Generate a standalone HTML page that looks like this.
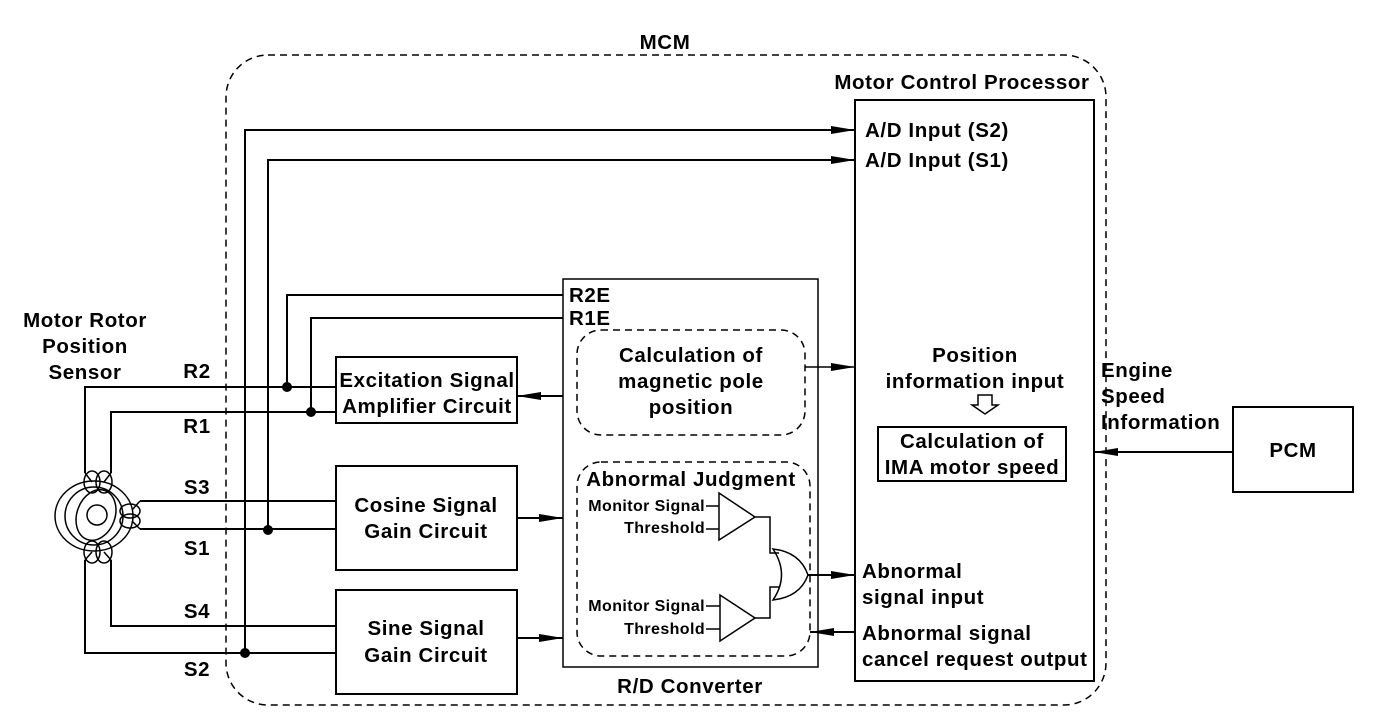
<!DOCTYPE html>
<html><head><meta charset="utf-8"><style>
html,body{margin:0;padding:0;background:#fff;}
svg{display:block;}
text{font-family:"Liberation Sans",Arial,sans-serif;font-weight:bold;fill:#000;}
</style></head><body>
<svg width="1392" height="720" viewBox="0 0 1392 720" xmlns="http://www.w3.org/2000/svg">
<defs>
<marker id="a" markerWidth="24" markerHeight="10" refX="24" refY="5" orient="auto" markerUnits="userSpaceOnUse">
<path d="M0,1 L24,5 L0,9 Z" fill="#000"/></marker>
</defs>
<g font-size="20.5" letter-spacing="0.6">
<text x="665" y="49" text-anchor="middle">MCM</text>
<text x="962" y="89" text-anchor="middle">Motor Control Processor</text>
<text x="865" y="137">A/D Input (S2)</text>
<text x="865" y="167">A/D Input (S1)</text>
<text x="85" y="327" text-anchor="middle">Motor Rotor</text>
<text x="85" y="353" text-anchor="middle">Position</text>
<text x="85" y="379" text-anchor="middle">Sensor</text>
<text x="197" y="378" text-anchor="middle">R2</text>
<text x="197" y="433" text-anchor="middle">R1</text>
<text x="197" y="494" text-anchor="middle">S3</text>
<text x="197" y="555" text-anchor="middle">S1</text>
<text x="197" y="618" text-anchor="middle">S4</text>
<text x="197" y="676" text-anchor="middle">S2</text>
<text x="569" y="302">R2E</text>
<text x="569" y="325">R1E</text>
<text x="427" y="387" text-anchor="middle">Excitation Signal</text>
<text x="427" y="413" text-anchor="middle">Amplifier Circuit</text>
<text x="426" y="512" text-anchor="middle">Cosine Signal</text>
<text x="426" y="538" text-anchor="middle">Gain Circuit</text>
<text x="426" y="635" text-anchor="middle">Sine Signal</text>
<text x="426" y="662" text-anchor="middle">Gain Circuit</text>
<text x="691" y="362" text-anchor="middle">Calculation of</text>
<text x="691" y="388" text-anchor="middle">magnetic pole</text>
<text x="691" y="414" text-anchor="middle">position</text>
<text x="691" y="486" text-anchor="middle">Abnormal Judgment</text>
<text x="690" y="693" text-anchor="middle">R/D Converter</text>
<text x="975" y="362" text-anchor="middle">Position</text>
<text x="975" y="388" text-anchor="middle">information input</text>
<text x="972" y="448" text-anchor="middle">Calculation of</text>
<text x="972" y="474" text-anchor="middle">IMA motor speed</text>
<text x="862" y="578">Abnormal</text>
<text x="862" y="604">signal input</text>
<text x="862" y="640">Abnormal signal</text>
<text x="862" y="666">cancel request output</text>
<text x="1101" y="377">Engine</text>
<text x="1101" y="403">Speed</text>
<text x="1101" y="429">Information</text>
<text x="1293" y="457" text-anchor="middle">PCM</text>
</g>
<g font-size="16" letter-spacing="0.4">
<text x="705" y="511" text-anchor="end">Monitor Signal</text>
<text x="705" y="533" text-anchor="end">Threshold</text>
<text x="705" y="611" text-anchor="end">Monitor Signal</text>
<text x="705" y="634" text-anchor="end">Threshold</text>
</g>
<g fill="none" stroke="#000" stroke-width="1.5">
<rect x="226" y="55" width="880" height="650" rx="42" stroke-dasharray="7,5"/>
<rect x="577" y="330" width="228" height="105" rx="24" stroke-dasharray="7,5"/>
<rect x="577" y="462" width="233" height="194" rx="24" stroke-dasharray="7,5"/>
<rect x="855" y="100" width="239" height="581" stroke-width="2"/>
<rect x="563" y="279" width="255" height="388"/>
<rect x="336" y="357" width="181" height="66" stroke-width="2"/>
<rect x="336" y="466" width="181" height="104" stroke-width="2"/>
<rect x="336" y="590" width="181" height="104" stroke-width="2"/>
<rect x="878" y="427" width="188" height="54" stroke-width="2"/>
<rect x="1233" y="407" width="120" height="85" stroke-width="2"/>
<path d="M245,653 V130 H855" marker-end="url(#a)" stroke-width="2"/>
<path d="M268,530 V160 H855" marker-end="url(#a)" stroke-width="2"/>
<path d="M287,386 V295 H563" stroke-width="2"/>
<path d="M311,411 V318 H563" stroke-width="2"/>
<path d="M563,396 H517" marker-end="url(#a)" stroke-width="2"/>
<path d="M517,518 H563" marker-end="url(#a)" stroke-width="2"/>
<path d="M517,638 H563" marker-end="url(#a)" stroke-width="2"/>
<path d="M805,367 H855" marker-end="url(#a)"/>
<path d="M1233,452 H1094" marker-end="url(#a)" stroke-width="2"/>
<path d="M808,575 H855" marker-end="url(#a)" stroke-width="2"/>
<path d="M855,632 H810" marker-end="url(#a)" stroke-width="2"/>
<path d="M978,395 V405 H972 L985,414 L998,405 H992 V395 Z" stroke-width="1.5"/>
<path d="M719,493 L755,517 L719,540 Z"/>
<path d="M720,595 L755,618 L720,641 Z"/>
<path d="M706,506 H719 M706,529 H719 M706,606 H720 M706,629 H720"/>
<path d="M755,517 H770 V553 H779 M755,618 H770 V587 H779"/>
<path d="M773,549 Q800,552 808,575 Q800,597 773,600 Q790,575 773,549 Z"/>
<path d="M336,387 H85 V473" stroke-width="2"/>
<path d="M336,412 H111 V473" stroke-width="2"/>
<path d="M336,501 H140" stroke-width="2"/>
<path d="M336,529 H140" stroke-width="2"/>
<path d="M336,626 H111 V560" stroke-width="2"/>
<path d="M336,653 H85 V560" stroke-width="2"/>
<ellipse cx="94" cy="516" rx="39" ry="35"/>
<circle cx="94" cy="516" r="29"/>
<ellipse cx="96" cy="515" rx="19" ry="26" transform="rotate(20 96 515)"/>
<circle cx="97" cy="515" r="10"/>
<ellipse cx="92" cy="482" rx="8" ry="11"/>
<ellipse cx="104" cy="482" rx="8" ry="11"/>
<ellipse cx="92" cy="552" rx="8" ry="11"/>
<ellipse cx="104" cy="552" rx="8" ry="11"/>
<ellipse cx="130" cy="511" rx="10" ry="7"/>
<ellipse cx="130" cy="521" rx="10" ry="7"/>
<path d="M85,473 L92,482 M111,473 L104,482 M85,560 L92,552 M111,560 L104,552 M140,501 L132,510 M140,529 L132,521"/>
</g>
<g fill="#000">
<circle cx="287" cy="387" r="5"/>
<circle cx="311" cy="412" r="5"/>
<circle cx="268" cy="530" r="5"/>
<circle cx="245" cy="653" r="5"/>
</g>
</svg>
</body></html>
